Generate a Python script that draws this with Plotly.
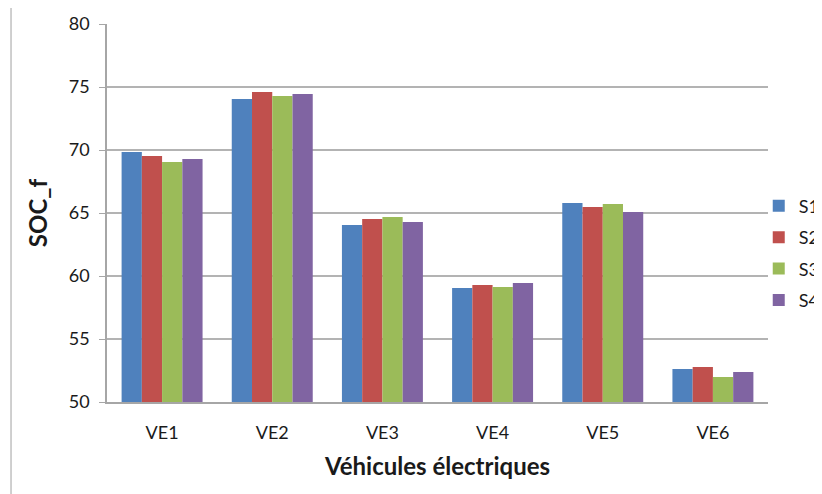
import plotly.graph_objects as go

categories = ["VE1", "VE2", "VE3", "VE4", "VE5", "VE6"]
series_names = ["S1", "S2", "S3", "S4"]
s1 = [69.84, 74.05, 64.05, 59.05, 65.79, 52.62]
s2 = [69.52, 74.60, 64.52, 59.29, 65.48, 52.78]
s3 = [69.05, 74.29, 64.68, 59.13, 65.71, 51.98]
s4 = [69.29, 74.44, 64.29, 59.44, 65.08, 52.38]
colors = ["#4F81BD", "#C0504D", "#9BBB59", "#8064A2"]

FONT = "Lato, 'Open Sans', sans-serif"
TXT = "#1a1a1a"

fig = go.Figure()
for i, (name, vals) in enumerate(zip(series_names, [s1, s2, s3, s4])):
    fig.add_trace(go.Bar(
        x=categories, y=vals, name=name, legendgroup=name,
        marker=dict(color=colors[i], line=dict(width=0)),
    ))

fig.update_layout(
    width=822, height=494,
    margin=dict(l=99, r=62, t=16, b=100, autoexpand=False),
    paper_bgcolor="white", plot_bgcolor="white",
    barmode="group", bargap=0.265, bargroupgap=0,
    font=dict(family=FONT, color=TXT, size=18),
    showlegend=True,
    legend=dict(
        x=0.986, xanchor="left", y=0.394, yanchor="middle",
        font=dict(family=FONT, size=18, color=TXT),
        traceorder="grouped", tracegroupgap=5, itemwidth=30,
        bgcolor="rgba(0,0,0,0)",
    ),
    xaxis=dict(
        showgrid=False, showline=True, linecolor="#A6A6A6", linewidth=1.5,
        ticks="", tickfont=dict(family=FONT, size=18, color=TXT),
        ticklabelstandoff=14,
        title=dict(text="Véhicules électriques", font=dict(family=FONT, size=24, color=TXT, weight="bold"), standoff=16),
    ),
    yaxis=dict(
        range=[50, 80], dtick=5, tick0=50,
        showgrid=True, gridcolor="#B3B3B3", gridwidth=1.5,
        showline=True, linecolor="#A6A6A6", linewidth=1.5,
        ticks="outside", ticklen=6, tickcolor="#A6A6A6",
        tickfont=dict(family=FONT, size=18, color=TXT),
        ticklabelstandoff=6,
        title=dict(text="SOC_f", font=dict(family=FONT, size=24, color=TXT, weight="bold"), standoff=14),
        zeroline=False,
    ),
    shapes=[dict(
        type="rect", xref="paper", yref="paper",
        x0=-0.1452, x1=1.3, y0=-0.4, y1=1.045,
        line=dict(color="#A0A0A0", width=1), fillcolor="rgba(0,0,0,0)", layer="below",
    )],
)

fig.write_html("out.html")
